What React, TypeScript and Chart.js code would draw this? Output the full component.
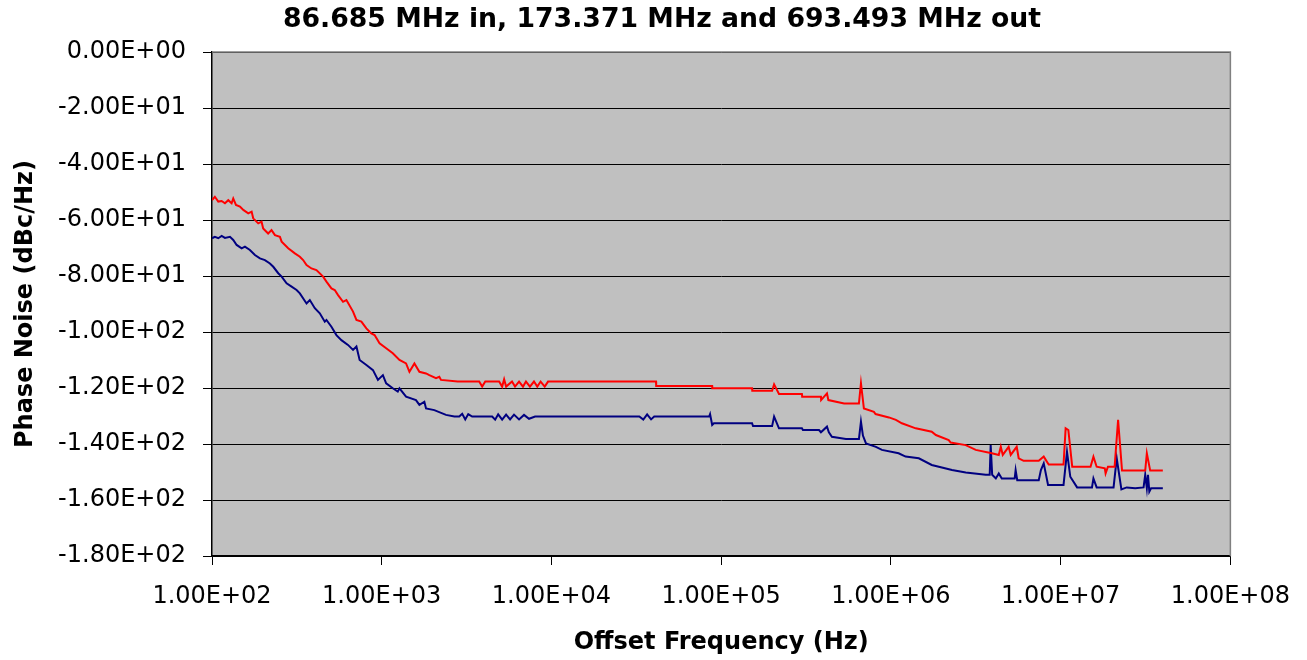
import React, { useEffect, useRef } from 'react';
import { Chart, registerables } from 'chart.js';

Chart.register(...registerables);

const TITLE = '86.685 MHz in, 173.371 MHz and 693.493 MHz out';
const X_TITLE = 'Offset Frequency (Hz)';
const Y_TITLE = 'Phase Noise (dBc/Hz)';
const X_TICKS = [1e2, 1e3, 1e4, 1e5, 1e6, 1e7, 1e8];
const Y_MIN = -180;
const Y_MAX = 0;
const Y_STEP = 20;

// 173.371 MHz output (red)
const redFreq = [
  100, 104, 108.9, 114, 119.2, 124.7, 130.5, 133.4, 138.4, 146.1,
  152.9, 163.5, 171.2, 174.9, 187.2, 195.9, 200.2, 214.2, 224.2, 234.9,
  251.3, 257.2, 281.1, 307.8, 329.3, 344.3, 360.6, 385.5, 412.4, 451.4,
  472.4, 505.4, 528.6, 553, 591.6, 619.3, 677.6, 709.5, 758.9, 811.8,
  868.4, 907.5, 970.9, 1062, 1162, 1272, 1391, 1456, 1558, 1667,
  1824, 1908, 2088, 2184, 2234, 2803, 3751, 3907, 4074, 4916,
  5122, 5262, 5405, 5855, 6100, 6443, 6799, 7076, 7470, 7887,
  8251, 8632, 9127, 9549, 10097, 41300, 41400, 88500, 88600, 152000,
  152500, 199500, 205000, 219000, 299000, 300000, 387000, 388000, 420000, 428000,
  530000, 648000, 666000, 693000, 794000, 812000, 973000, 1070000, 1160000, 1400000,
  1740000, 1840000, 2190000, 2250000, 2760000, 3160000, 3930000, 4320000, 4440000, 4560000,
  4940000, 5080000, 5510000, 5660000, 6050000, 7430000, 7950000, 8500000, 10400000, 10700000,
  11100000, 11700000, 15000000, 15600000, 16300000, 18200000, 18400000, 19000000, 20800000, 21800000,
  23000000, 31500000, 32200000, 33700000, 40000000,
];
const redDb = [
  -52.9, -51.7, -53.4, -53.2, -54, -52.9, -54, -52.3, -54.6, -55.2,
  -56.4, -57.6, -57, -59.4, -61.2, -60.6, -63, -64.8, -63.6, -65.4,
  -66, -67.7, -70.1, -71.9, -73.1, -74.3, -76.1, -77.3, -77.9, -80.2,
  -82, -84.4, -85, -86.8, -89.2, -88.6, -92.7, -95.7, -96.3, -98.7,
  -100.5, -101.1, -104, -105.8, -107.6, -110, -111.2, -114.2, -111.2, -114.2,
  -114.8, -115.4, -116.5, -116, -117.1, -117.7, -117.7, -119.5, -117.7, -117.7,
  -119.5, -116.9, -119.5, -117.7, -119.5, -117.7, -119.5, -117.7, -119.5, -117.7,
  -119.5, -117.7, -119.5, -117.7, -117.7, -117.7, -119.3, -119.3, -120.1, -120.1,
  -121, -121, -118.7, -122.1, -122.1, -123.1, -123.1, -124.3, -121.9, -124.3,
  -125.5, -125.5, -118.3, -127.3, -128.5, -129.3, -130.5, -131.4, -132.6, -134.4,
  -135.6, -136.8, -138.6, -139.5, -140.4, -142.1, -143.3, -143.9, -141, -143.9,
  -141, -143.9, -141, -145.1, -146, -146, -144.5, -147.3, -147.3, -134.4,
  -135, -148.1, -148.1, -144.5, -148.1, -148.7, -150.5, -148.1, -148.1, -131.4,
  -149.5, -149.5, -143.3, -149.5, -149.5,
];

// 693.493 MHz output (navy)
const blueFreq = [
  100, 104, 108.9, 114, 119.2, 127.6, 133.4, 139.7, 149.5, 156.3,
  167.2, 179, 191.6, 205, 219.4, 229.6, 245.6, 257.2, 275.1, 294.4,
  315, 329.3, 360.6, 377, 403.4, 431.6, 461.8, 472.4, 505.4, 540.8,
  578.6, 632.6, 677.6, 709.5, 741, 812, 888, 950, 1016, 1062,
  1162, 1243, 1272, 1391, 1591, 1667, 1783, 1824, 2041, 2391,
  2678, 2862, 2980, 3105, 3234, 3410, 4474, 4659, 4853, 5122,
  5405, 5704, 6018, 6443, 6892, 7376, 8008, 32940, 34750, 36620,
  38630, 40300, 84900, 86000, 88500, 90600, 152000, 154000, 199500, 205000,
  219000, 299000, 303000, 377000, 387000, 420000, 431000, 449000, 543000, 648000,
  666000, 684000, 713000, 816000, 885000, 1110000, 1220000, 1460000, 1740000, 2290000,
  2760000, 3620000, 3820000, 3870000, 3950000, 4150000, 4320000, 4500000, 5360000, 5430000,
  5550000, 7430000, 7650000, 7950000, 8430000, 10400000, 10900000, 11400000, 12500000, 15300000,
  15600000, 16300000, 20500000, 21400000, 22800000, 24500000, 27500000, 30800000, 31500000, 32200000,
  32700000, 33300000, 34100000, 40000000,
];
const blueDb = [
  -66.5, -66, -66.5, -65.7, -66.4, -66, -67.1, -68.9, -70.1, -69.5,
  -70.7, -72.5, -73.7, -74.3, -75.5, -76.7, -79, -80.2, -82.6, -83.8,
  -85, -86.2, -89.8, -88.6, -91.5, -93.3, -96.3, -95.7, -98.1, -101.1,
  -102.9, -104.6, -106.4, -105.2, -110, -111.8, -113.6, -117.1, -115.4, -118.3,
  -120.1, -121.3, -120.1, -123.1, -124.3, -126, -124.9, -127.3, -127.9, -129.6,
  -130.2, -130.2, -129.2, -131.2, -129.3, -130.2, -130.2, -131.3, -129.4, -131.3,
  -129.5, -131.2, -129.5, -131.2, -129.6, -131, -130.2, -130.2, -131.3, -129.4,
  -131.2, -130.2, -130.2, -129.3, -133.2, -132.6, -132.6, -133.6, -133.6, -130.2,
  -134.4, -134.4, -135, -135, -135.8, -133.8, -135.8, -137.4, -138.2, -138.2,
  -132, -137, -139.8, -141, -142.1, -143.3, -144.5, -145.1, -147.5, -149.3,
  -150.2, -151, -151, -140.4, -151, -152.3, -150.5, -152.3, -152.3, -149.3,
  -152.9, -152.9, -149.3, -146.9, -154.6, -154.6, -142.8, -151.7, -155.5, -155.5,
  -152.3, -155.5, -155.5, -145.1, -156.2, -155.5, -155.8, -155.5, -151, -155.8,
  -151, -157, -155.8, -155.8,
];

function sci(v: number): string {
  const s = Number(v).toExponential(2);
  const [m, e] = s.split('e');
  const sign = e[0];
  const digits = e.slice(1).padStart(2, '0');
  return m + 'E' + sign + digits;
}

const FONT = 'DejaVu Sans';

const plotFrame = {
  id: 'plotFrame',
  beforeDraw(chart: any) {
    const { ctx, chartArea } = chart;
    const { left, top, right, bottom } = chartArea;
    ctx.save();
    ctx.fillStyle = '#C0C0C0';
    ctx.fillRect(left, top, right - left, bottom - top);
    ctx.restore();
  },
  beforeDatasetsDraw(chart: any) {
    const { ctx, chartArea } = chart;
    const { left, top, right, bottom } = chartArea;
    ctx.save();
    ctx.strokeStyle = '#808080';
    ctx.lineWidth = 1.5;
    ctx.beginPath();
    ctx.moveTo(left, top);
    ctx.lineTo(right, top);
    ctx.lineTo(right, bottom);
    ctx.stroke();
    ctx.restore();
  },
};

export default function App() {
  const canvasRef = useRef<HTMLCanvasElement | null>(null);

  useEffect(() => {
    if (!canvasRef.current) return;
    Chart.defaults.font.family = FONT;
    const chart = new Chart(canvasRef.current, {
      type: 'line',
      data: {
        datasets: [
          {
            label: '173.371 MHz',
            data: redFreq.map((f, i) => ({ x: f, y: redDb[i] })),
            borderColor: '#FF0000',
            backgroundColor: '#FF0000',
            borderWidth: 2,
            pointRadius: 0,
            tension: 0,
            fill: false,
          },
          {
            label: '693.493 MHz',
            data: blueFreq.map((f, i) => ({ x: f, y: blueDb[i] })),
            borderColor: '#000080',
            backgroundColor: '#000080',
            borderWidth: 2,
            pointRadius: 0,
            tension: 0,
            fill: false,
          },
        ],
      },
      options: {
        animation: false,
        responsive: false,
        devicePixelRatio: 1,
        layout: { padding: { left: 17, right: 0, top: 0, bottom: 0 } },
        plugins: {
          legend: { display: false },
          tooltip: { enabled: false },
          title: {
            display: true,
            text: TITLE,
            color: '#000',
            font: { family: FONT, size: 26.7, weight: 'bold' },
            padding: { top: 4, bottom: 16 },
          },
        },
        scales: {
          x: {
            type: 'logarithmic',
            position: 'bottom',
            min: X_TICKS[0],
            max: X_TICKS[X_TICKS.length - 1],
            afterBuildTicks: (s: any) => {
              s.ticks = X_TICKS.map((v) => ({ value: v }));
            },
            afterFit: (s: any) => {
              s.height = 104;
            },
            ticks: {
              autoSkip: false,
              maxRotation: 0,
              color: '#000',
              padding: 17,
              font: { family: FONT, size: 24 },
              callback: (v: any) => sci(Number(v)),
            },
            grid: { drawOnChartArea: false, drawTicks: true, tickLength: 9, color: '#000' },
            border: { display: true, color: '#000', width: 1.5 },
            title: {
              display: true,
              text: X_TITLE,
              color: '#000',
              font: { family: FONT, size: 24, weight: 'bold' },
              padding: { top: 0, bottom: 3 },
            },
          },
          y: {
            type: 'linear',
            position: 'left',
            min: Y_MIN,
            max: Y_MAX,
            afterFit: (s: any) => {
              s.width = 195;
            },
            ticks: {
              stepSize: Y_STEP,
              color: '#000',
              padding: 17,
              font: { family: FONT, size: 24 },
              callback: (v: any) => sci(Number(v)),
            },
            grid: { color: '#000', lineWidth: 1, tickLength: 9 },
            border: { display: true, color: '#000', width: 1.5 },
            title: {
              display: true,
              text: Y_TITLE,
              color: '#000',
              font: { family: FONT, size: 24, weight: 'bold' },
              padding: { top: -6, bottom: 0 },
            },
          },
          y2: {
            type: 'linear',
            position: 'right',
            display: true,
            min: 0,
            max: 1,
            afterFit: (s: any) => {
              s.width = 75;
            },
            ticks: { display: false },
            grid: { display: false },
            border: { display: false },
          },
        },
      },
      plugins: [plotFrame],
    } as any);
    return () => chart.destroy();
  }, []);

  return (
    <div style={{ position: 'fixed', left: 0, top: 0, width: 1307, height: 660, background: '#fff' }}>
      <canvas ref={canvasRef} width={1307} height={660} style={{ width: 1307, height: 660 }} />
    </div>
  );
}
